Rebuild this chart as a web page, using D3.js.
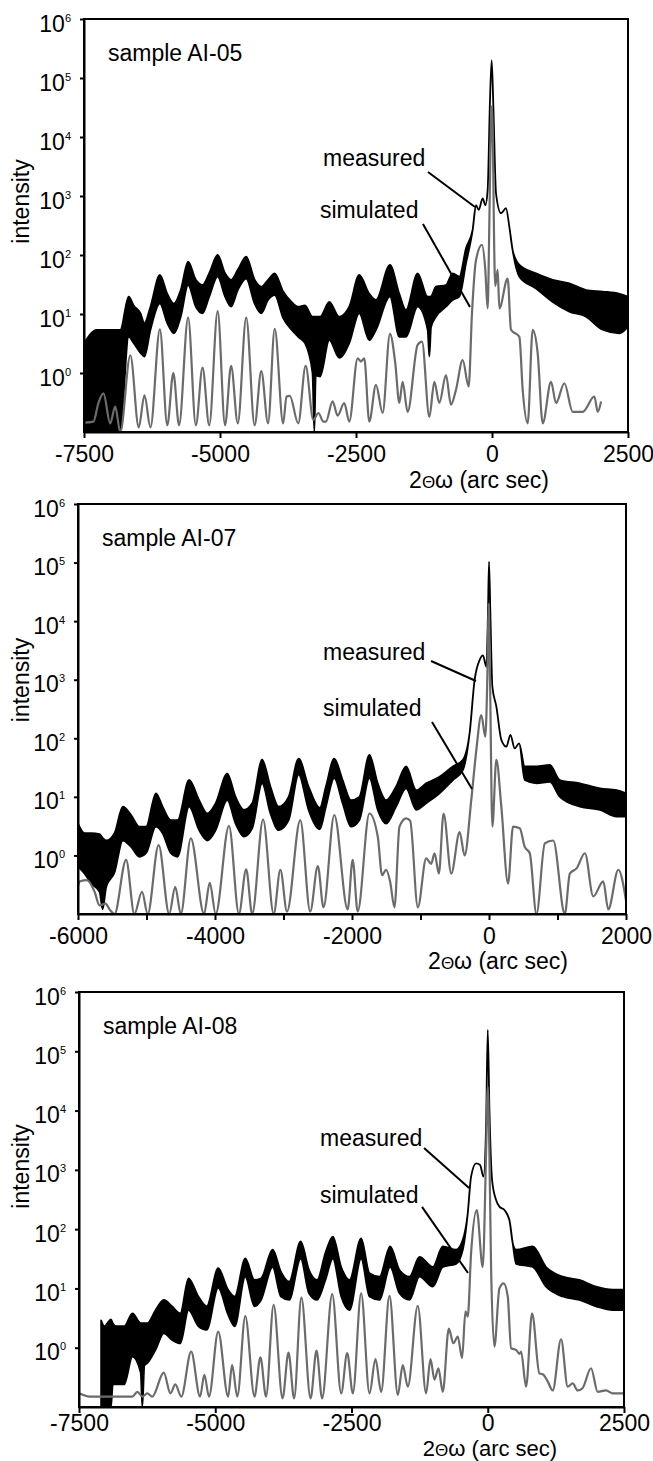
<!DOCTYPE html>
<html>
<head>
<meta charset="utf-8">
<script src="https://cdn.jsdelivr.net/npm/d3@7"></script>
<style>
  body { margin: 0; background: #fff; }
  text { font-family: "Liberation Sans", Arial, sans-serif; }
</style>
</head>
<body>
<div id="chart"></div>
<script>
const yTicks = [1, 10, 100, 1e3, 1e4, 1e5, 1e6];
const yExp = ["0", "1", "2", "3", "4", "5", "6"];

const xTicks05 = [-7500, -5000, -2500, 0, 2500];
const xLabels05 = [-7500, -5000, -2500, 0, 2500];
const xTicks07 = [-6000, -5000, -4000, -3000, -2000, -1000, 0, 1000, 2000];
const xLabels07 = [-6000, -4000, -2000, 0, 2000];
const xTicks08 = [-7500, -5000, -2500, 0, 2500];
const xLabels08 = [-7500, -5000, -2500, 0, 2500];

// measured : [x, low edge of noise, high edge of noise]
const meas05 = [
  [-7500, 0.1, 3.2], [-7265, 0.1, 5.4], [-7019, 0.1, 5.4], [-6833, 0.11, 5.4],
  [-6679, 4.1, 19.7], [-6586, 3.2, 14], [-6463, 2.2, 10.3], [-6389, 1.9, 7],
  [-6278, 5.4, 13.3], [-6105, 15, 46], [-5969, 7, 22], [-5846, 4.7, 15],
  [-5722, 9, 25.5], [-5586, 31, 77], [-5444, 13.3, 38], [-5321, 10.3, 31],
  [-5198, 19.7, 49], [-5043, 43, 100], [-4907, 19.7, 49], [-4796, 13.3, 38],
  [-4673, 25.5, 56], [-4518, 40, 94], [-4364, 15, 38], [-4241, 10.3, 29],
  [-4117, 17.3, 38], [-3994, 21, 49], [-3839, 8.5, 24], [-3685, 5.4, 16],
  [-3562, 4.1, 13.3], [-3438, 3.2, 14], [-3300, 1.0, 9], [-3266, 0.1, 9],
  [-3240, 0.9, 9], [-3160, 0.87, 9], [-2991, 3.6, 16], [-2808, 1.8, 9],
  [-2624, 3.2, 13.3], [-2440, 10.3, 46], [-2256, 3.6, 22], [-2133, 5.4, 17.3],
  [-1876, 19.7, 68], [-1704, 4.1, 22], [-1582, 4.1, 11.7], [-1367, 13.3, 49],
  [-1183, 5.4, 19.7], [-1152, 1.9, 19.7], [-1120, 6, 20], [-1030, 9, 29],
  [-846, 13.3, 31], [-723, 17.3, 49], [-601, 19.7, 43], [-478, 72, 130],
  [-356, 265, 265], [-294, 700, 700], [-245, 580, 580], [-172, 910, 910],
  [-123, 700, 700], [-80, 1260, 1260], [-37, 42000, 42000], [-6, 2.0e5, 2.0e5],
  [25, 33000, 33000], [74, 1100, 1100], [166, 510, 510], [257, 620, 620],
  [319, 300, 300], [380, 120, 120], [503, 43, 68], [809, 27, 49],
  [1116, 16, 38], [1422, 11, 33], [1729, 9, 25.5], [2035, 5.4, 24],
  [2342, 4.7, 22], [2500, 6.1, 19.7]
];
const sim05 = [
  [-7500, 0.144], [-7327, 0.15], [-7235, 0.31], [-7142, 0.45], [-7019, 0.14],
  [-6926, 0.27], [-6833, 0.1], [-6648, 2.0], [-6494, 0.12], [-6389, 0.42],
  [-6278, 0.12], [-6105, 5.5], [-5969, 0.13], [-5858, 1.0], [-5753, 0.13],
  [-5586, 8.7], [-5444, 0.13], [-5321, 1.23], [-5198, 0.13], [-5043, 11.2],
  [-4907, 0.13], [-4796, 1.32], [-4673, 0.14], [-4518, 8.7], [-4364, 0.13],
  [-4241, 1.08], [-4117, 0.14], [-3994, 5.6], [-3839, 0.14], [-3778, 0.40],
  [-3716, 0.41], [-3562, 0.14], [-3426, 1.32], [-3284, 0.16], [-3191, 0.21],
  [-3099, 0.15], [-3053, 0.15], [-2930, 0.33], [-2838, 0.19], [-2716, 0.31],
  [-2624, 0.15], [-2470, 1.77], [-2409, 1.56], [-2348, 1.77], [-2256, 0.15],
  [-2133, 0.63], [-2011, 0.21], [-1876, 4.6], [-1778, 1.46], [-1704, 0.31],
  [-1643, 0.71], [-1551, 0.22], [-1367, 3.0], [-1287, 3.4], [-1152, 0.18],
  [-1060, 0.71], [-969, 0.31], [-846, 0.92], [-754, 0.29], [-662, 0.52],
  [-539, 1.66], [-429, 0.59], [-368, 10.3], [-294, 82], [-184, 148],
  [-123, 56], [-80, 12.5], [-50, 300], [-30, 5000], [-6, 33000],
  [20, 5000], [35, 300], [60, 30], [104, 56], [135, 12.5], [288, 40],
  [349, 5.4], [503, 4.1], [564, 0.52], [656, 0.14], [748, 5.4], [840, 2.16],
  [932, 0.14], [1085, 0.71], [1177, 0.31], [1330, 0.67], [1483, 0.22],
  [1667, 0.22], [1882, 0.40], [1943, 0.22], [2005, 0.33]
];

const meas07 = [
  [-6000, 0.64, 3.5], [-5903, 0.49, 2.4], [-5806, 0.33, 2.4], [-5685, 0.24, 2.3],
  [-5640, 0.12, 2.0], [-5588, 0.29, 1.8], [-5467, 0.51, 2.4], [-5346, 1.8, 6.8],
  [-5225, 1.4, 4.9], [-5104, 0.95, 3.1], [-5007, 1.09, 3.1], [-4862, 3.1, 11.5],
  [-4765, 2.4, 6.8], [-4644, 1.09, 4.0], [-4547, 0.95, 4.0], [-4378, 6.8, 19.4],
  [-4232, 2.7, 8.8], [-4111, 1.8, 5.2], [-3990, 2.7, 7.8], [-3821, 8.8, 25],
  [-3700, 3.5, 10], [-3578, 2.1, 6.0], [-3457, 2.9, 7.8], [-3312, 17, 43],
  [-3191, 5.2, 15], [-3070, 2.7, 6.8], [-2925, 4.0, 10], [-2779, 24, 45],
  [-2634, 6.0, 15], [-2470, 2.8, 6.5], [-2381, 6.8, 15], [-2259, 21, 45],
  [-2137, 7.8, 19.4], [-2015, 3.1, 8.8], [-1893, 4.0, 10], [-1746, 21, 52],
  [-1624, 6.0, 17], [-1502, 3.5, 8.8], [-1356, 6.8, 15], [-1210, 14, 33],
  [-1063, 6.0, 13], [-917, 7.8, 17], [-722, 11.5, 22], [-527, 19.4, 33],
  [-380, 29, 43], [-283, 122, 122], [-210, 990, 990], [-137, 2170, 2170],
  [-88, 2600, 2600], [-39, 1660, 1660], [-15, 13500, 13500], [0, 1.04e5, 1.04e5],
  [20, 13500, 13500], [49, 760, 760], [107, 350, 350], [180, 94, 94],
  [254, 72, 72], [312, 114, 114], [376, 67, 67], [439, 82, 82],
  [522, 19.4, 33], [693, 17, 33], [888, 18, 35], [1034, 10, 19.4],
  [1327, 6.8, 17], [1620, 6.0, 14], [1863, 4.6, 13], [2000, 4.6, 11.5]
];
const sim07 = [
  [-6000, 0.3], [-5976, 0.36], [-5869, 0.38], [-5758, 0.24], [-5685, 0.14],
  [-5598, 0.15], [-5540, 0.12], [-5467, 0.1], [-5298, 0.84], [-5177, 0.1],
  [-5065, 0.24], [-4983, 0.1], [-4823, 1.5], [-4668, 0.1], [-4581, 0.29],
  [-4499, 0.1], [-4353, 1.96], [-4160, 0.1], [-4077, 0.34], [-3990, 0.1],
  [-3796, 3.2], [-3651, 0.1], [-3545, 0.58], [-3457, 0.1], [-3298, 4.1],
  [-3143, 0.1], [-3046, 0.57], [-2949, 0.11], [-2755, 4.0], [-2610, 0.11],
  [-2499, 0.66], [-2416, 0.13], [-2259, 4.9], [-2063, 0.12], [-1990, 0.84],
  [-1917, 0.11], [-1746, 5.2], [-1624, 2.1], [-1561, 0.46], [-1502, 0.57],
  [-1444, 0.36], [-1380, 0.13], [-1307, 3.1], [-1210, 4.3], [-1151, 3.9],
  [-1039, 0.13], [-917, 0.89], [-844, 0.72], [-795, 1.09], [-732, 0.49],
  [-663, 5.2], [-551, 0.49], [-429, 2.5], [-356, 1.0], [-259, 8.8],
  [-185, 63], [-112, 250], [-54, 107], [-25, 1000], [-5, 2e4], [15, 1000],
  [49, 3.1], [107, 43], [180, 6.8], [278, 0.33], [351, 3.1], [449, 2.9],
  [522, 1.4], [595, 1.09], [693, 0.1], [815, 1.6], [937, 1.8], [1107, 0.1],
  [1180, 0.49], [1278, 0.6], [1400, 1.09], [1522, 0.2], [1668, 0.36],
  [1741, 0.12], [1888, 0.57], [2000, 0.17]
];

const meas08 = [
  [-7094, 0.1, 2.9], [-7034, 0.1, 2.3], [-6913, 0.1, 3.0], [-6880, 0.24, 2.6],
  [-6822, 0.24, 2.3], [-6671, 0.24, 2.3], [-6519, 0.71, 3.8], [-6368, 0.38, 2.6],
  [-6338, 0.1, 2.6], [-6300, 0.5, 2.6], [-6247, 0.55, 2.6], [-6096, 0.92, 4.3],
  [-5944, 1.75, 6.4], [-5793, 1.35, 5.0], [-5642, 1.18, 3.8], [-5490, 4.3, 14.8],
  [-5309, 2.3, 7.3], [-5157, 2.0, 5.0], [-4946, 10.2, 21.9], [-4764, 3.6, 9.5],
  [-4643, 2.3, 7.3], [-4449, 15.8, 32], [-4280, 5.0, 13.9], [-4159, 6.4, 14.8],
  [-3947, 23, 45], [-3796, 7.3, 19.2], [-3644, 6.4, 13], [-3432, 32, 62],
  [-3281, 8.3, 20.5], [-3130, 6.4, 13.9], [-2978, 13.9, 40], [-2842, 32, 75],
  [-2689, 7.3, 23], [-2536, 4.3, 13.9], [-2323, 32, 70], [-2170, 7.3, 18],
  [-1986, 6.4, 15.8], [-1791, 23, 51], [-1620, 8.3, 20.5], [-1436, 6.4, 15.8],
  [-1253, 15.8, 34], [-1008, 10.7, 23], [-825, 23, 51], [-581, 26, 45],
  [-458, 45, 66], [-367, 185, 185], [-306, 770, 770], [-214, 1290, 1290],
  [-141, 1210, 1210], [-79, 770, 770], [-31, 5400, 5400], [0, 2.3e5, 2.3e5],
  [31, 10200, 10200], [79, 680, 680], [153, 310, 310], [214, 240, 240],
  [306, 210, 210], [397, 143, 143], [458, 58, 58], [520, 26, 45],
  [825, 23, 51], [1070, 10.7, 23], [1375, 7.3, 15.8], [1681, 6.4, 13.9],
  [1986, 5.0, 10.7], [2292, 4.3, 9.5], [2500, 4.3, 9.5]
];
const sim08 = [
  [-7500, 0.17], [-7306, 0.15], [-6943, 0.15], [-6519, 0.15], [-6429, 0.18],
  [-6338, 0.15], [-6247, 0.17], [-6156, 0.15], [-5944, 0.38], [-5823, 0.17],
  [-5732, 0.24], [-5624, 0.15], [-5442, 0.86], [-5279, 0.15], [-5200, 0.35],
  [-5115, 0.15], [-4946, 1.87], [-4764, 0.15], [-4691, 0.51], [-4595, 0.15],
  [-4449, 3.4], [-4280, 0.15], [-4171, 0.69], [-4068, 0.15], [-3929, 5.3],
  [-3765, 0.14], [-3656, 0.83], [-3553, 0.14], [-3420, 7.0], [-3251, 0.14],
  [-3142, 0.89], [-3039, 0.14], [-2854, 8.0], [-2689, 0.17], [-2579, 0.81],
  [-2475, 0.17], [-2323, 8.3], [-2170, 0.17], [-2060, 0.64], [-1956, 0.18],
  [-1803, 7.5], [-1650, 0.16], [-1559, 0.51], [-1467, 0.22], [-1284, 5.1],
  [-1131, 0.17], [-1051, 0.64], [-978, 0.29], [-905, 0.45], [-825, 0.18],
  [-715, 2.1], [-630, 1.19], [-550, 1.54], [-471, 0.67], [-409, 4.1],
  [-367, 3.35], [-306, 39], [-202, 210], [-92, 23], [-30, 2000], [0, 2.5e4],
  [30, 2000], [61, 23], [122, 1.04], [214, 10], [293, 12.2], [367, 7.3],
  [428, 0.98], [520, 0.92], [581, 0.79], [611, 0.86], [703, 0.22], [813, 3.8],
  [947, 0.37], [1021, 0.35], [1100, 0.27], [1192, 0.19], [1345, 1.39],
  [1467, 0.22], [1559, 0.25], [1650, 0.19], [1742, 0.21], [1895, 0.45],
  [2017, 0.18], [2170, 0.19], [2292, 0.17], [2500, 0.17]
];

// annotations : [text, textX, textY, lineX1, lineY1, lineX2, lineY2] in data units
const notes05 = [
  ["measured", -3107, 3200, -1177, 2550, -313, 650],
  ["simulated", -3162, 424, -1269, 335, -405, 13.2]
];
const notes07 = [
  ["measured", -2423, 2170, -846, 2090, -189, 950],
  ["simulated", -2423, 240, -832, 190, -248, 13.6]
];
const notes08 = [
  ["measured", -3078, 2530, -1169, 2340, -343, 494],
  ["simulated", -3078, 276, -1206, 237, -362, 18.2]
];

// ---- layout ----
const panels = [
  { name: "sample AI-05", l: 84, r: 628, t: 19, b: 432, xDomain: [-7500, 2500],
    xTicks: xTicks05, xLabels: xLabels05, meas: meas05, sim: sim05, notes: notes05,
    titleX: 479, titleDy: 56, titleSize: 23, tickDy: 30, yTitleDy: -24 },
  { name: "sample AI-07", l: 78, r: 626, t: 504, b: 914, xDomain: [-6000, 2000],
    xTicks: xTicks07, xLabels: xLabels07, meas: meas07, sim: sim07, notes: notes07,
    titleX: 498, titleDy: 55, titleSize: 23, tickDy: 30, yTitleDy: -29 },
  { name: "sample AI-08", l: 79, r: 624, t: 992, b: 1407, xDomain: [-7500, 2500],
    xTicks: xTicks08, xLabels: xLabels08, meas: meas08, sim: sim08, notes: notes08,
    titleX: 490, titleDy: 49, titleSize: 22, tickDy: 24, yTitleDy: -33 }
];

const FONT = 23;
const svg = d3.select("#chart").append("svg")
  .attr("width", 653).attr("height", 1461);

panels.forEach((p, i) => {
  const x = d3.scaleLinear().domain(p.xDomain).range([p.l, p.r]);
  const y = d3.scaleLog().domain([0.1, 1e6]).range([p.b, p.t]);

  const clipId = "clip" + i;
  svg.append("clipPath").attr("id", clipId)
    .append("rect")
    .attr("x", p.l).attr("y", p.t - 1)
    .attr("width", p.r - p.l).attr("height", p.b - p.t + 1);

  const plot = svg.append("g").attr("clip-path", `url(#${clipId})`);

  // measured : noisy band
  const band = d3.area()
    .x(d => x(d[0]))
    .y0(d => y(d[1]))
    .y1(d => y(d[2]))
    .curve(d3.curveMonotoneX);
  plot.append("path")
    .datum(p.meas)
    .attr("d", band)
    .attr("fill", "#000")
    .attr("stroke", "#000")
    .attr("stroke-width", 1.8)
    .attr("stroke-linejoin", "round");

  // simulated
  const line = d3.line()
    .x(d => x(d[0]))
    .y(d => y(d[1]))
    .curve(d3.curveMonotoneX);
  plot.append("path")
    .datum(p.sim)
    .attr("d", line)
    .attr("fill", "none")
    .attr("stroke", "#6b6b6b")
    .attr("stroke-width", 2.2)
    .attr("stroke-linejoin", "round");

  // frame
  svg.append("rect")
    .attr("x", p.l).attr("y", p.t)
    .attr("width", p.r - p.l).attr("height", p.b - p.t)
    .attr("fill", "none").attr("stroke", "#000").attr("stroke-width", 2);

  // x axis
  const gx = svg.append("g")
    .attr("transform", `translate(0,${p.b})`)
    .call(d3.axisBottom(x)
      .tickValues(p.xTicks)
      .tickSize(6).tickSizeOuter(0)
      .tickFormat(d => p.xLabels.includes(d) ? String(d) : ""));
  gx.select(".domain").attr("stroke-width", 2);
  gx.selectAll(".tick line").attr("stroke-width", 2);
  gx.selectAll(".tick text")
    .attr("y", p.tickDy).attr("dy", null)
    .attr("font-size", FONT)
    .attr("font-family", "Liberation Sans, Arial, sans-serif")
    .attr("fill", "#000");

  // y axis
  const gy = svg.append("g")
    .attr("transform", `translate(${p.l},0)`)
    .call(d3.axisLeft(y).tickValues(yTicks).tickSize(4).tickSizeOuter(0)
      .tickFormat(() => ""));
  gy.select(".domain").attr("stroke-width", 2);
  gy.selectAll(".tick line").attr("stroke-width", 2);
  gy.selectAll(".tick text").each(function (d, k) {
    const t = d3.select(this)
      .attr("x", -13).attr("dy", null).attr("y", 12)
      .attr("font-size", FONT)
      .attr("font-family", "Liberation Sans, Arial, sans-serif")
      .attr("fill", "#000")
      .attr("text-anchor", "end");
    t.append("tspan").text("10");
    t.append("tspan").attr("font-size", 11).attr("dy", -10).text(yExp[k]);
  });

  // y title
  svg.append("text")
    .attr("transform", `translate(29,${(p.t + p.b) / 2 + p.yTitleDy}) rotate(-90)`)
    .attr("text-anchor", "middle")
    .attr("font-size", FONT)
    .text("intensity");

  // x title
  const xt = svg.append("text")
    .attr("x", p.titleX).attr("y", p.b + p.titleDy)
    .attr("text-anchor", "middle")
    .attr("font-size", p.titleSize);
  xt.append("tspan").text("2");
  xt.append("tspan").attr("font-size", 17).text("\u0398");
  xt.append("tspan").text("\u03c9 (arc sec)");

  // sample name
  svg.append("text")
    .attr("x", p.l + 24).attr("y", p.t + 42)
    .attr("font-size", FONT)
    .text(p.name);

  // annotations
  p.notes.forEach(n => {
    svg.append("text")
      .attr("x", x(n[1])).attr("y", y(n[2]))
      .attr("font-size", FONT)
      .text(n[0]);
    svg.append("line")
      .attr("x1", x(n[3])).attr("y1", y(n[4]))
      .attr("x2", x(n[5])).attr("y2", y(n[6]))
      .attr("stroke", "#000").attr("stroke-width", 2);
  });
});
</script>
</body>
</html>
